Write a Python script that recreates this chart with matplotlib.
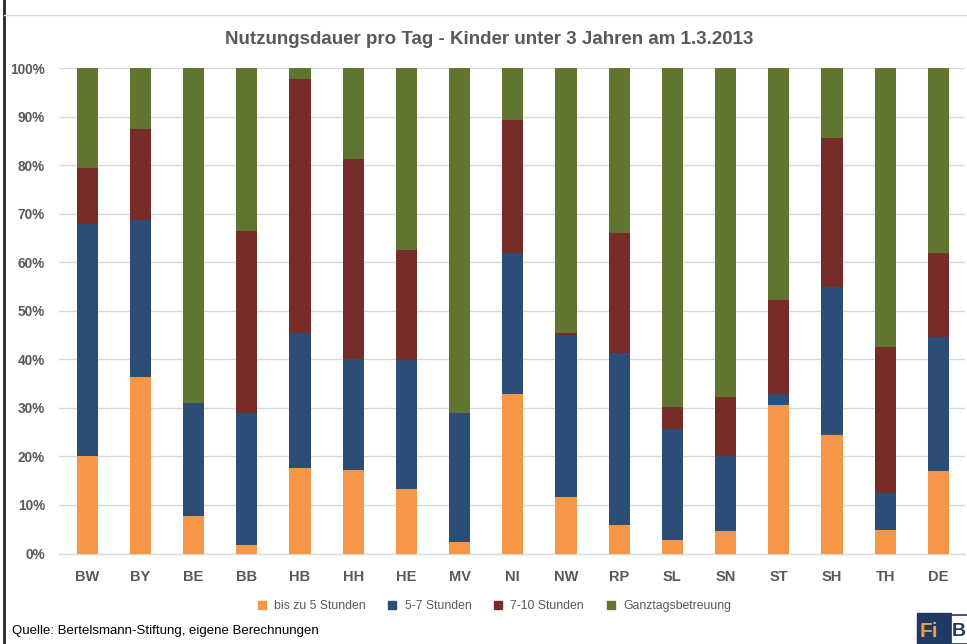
import numpy as np
import matplotlib.pyplot as plt
from matplotlib.patches import Rectangle
from matplotlib.lines import Line2D

plt.rcParams['font.family'] = ['Liberation Sans', 'DejaVu Sans']

laender = ['BW', 'BY', 'BE', 'BB', 'HB', 'HH', 'HE', 'MV', 'NI',
           'NW', 'RP', 'SL', 'SN', 'ST', 'SH', 'TH', 'DE']

# Anteile in Prozent
bis5 = [20.1, 36.4, 7.7, 1.8, 17.6, 17.2, 13.3, 2.4, 32.9,
        11.6, 5.9, 2.8, 4.6, 30.6, 24.4, 4.8, 17.0]
std5_7 = [47.8, 32.3, 23.3, 27.1, 27.8, 22.8, 26.6, 26.5, 28.9,
          33.4, 35.4, 22.8, 15.5, 2.3, 30.5, 7.7, 27.6]
std7_10 = [11.5, 18.7, 0.0, 37.5, 52.3, 41.3, 22.6, 0.0, 27.5,
           0.4, 24.7, 4.6, 12.1, 19.3, 30.7, 30.0, 17.2]
ganztag = [20.6, 12.6, 69.0, 33.6, 2.3, 18.7, 37.5, 71.1, 10.7,
           54.6, 34.0, 69.8, 67.8, 47.8, 14.4, 57.5, 38.2]

serien = ['bis zu 5 Stunden', '5-7 Stunden', '7-10 Stunden', 'Ganztagsbetreuung']
colors = ['#F79646', '#2C4D75', '#772C2A', '#5F7530']
grey = '#595959'

fig = plt.figure(figsize=(9.67, 6.44), dpi=100)
ax = fig.add_axes([0.061, 0.1405, 0.937, 0.7539])

x = np.arange(len(laender))
bottom = np.zeros(len(laender))
for vals, name, c in zip([bis5, std5_7, std7_10, ganztag], serien, colors):
    v = np.array(vals) / 100
    ax.bar(x, v, 0.4, bottom=bottom, color=c, label=name, zorder=3)
    bottom += v

ax.set_xlim(-0.53, 16.5)
ax.set_ylim(0, 1)
ax.set_yticks(np.arange(0, 1.01, 0.1))
ax.set_yticklabels(['%d%%' % (i * 10) for i in range(11)])
ax.set_xticks(x)
ax.set_xticklabels(laender)
ax.yaxis.grid(True, color='#D9D9D9', linewidth=1, zorder=0)
for s in ['top', 'right', 'left']:
    ax.spines[s].set_visible(False)
ax.spines['bottom'].set_color('#D9D9D9')
ax.spines['bottom'].set_linewidth(1)
ax.tick_params(axis='x', length=0, colors=grey, labelsize=10.5, pad=12)
ax.tick_params(axis='y', length=0, colors=grey, labelsize=9.8, pad=10)
for lab in ax.get_xticklabels() + ax.get_yticklabels():
    lab.set_fontweight('bold')

fig.text(0.506, 0.938, 'Nutzungsdauer pro Tag - Kinder unter 3 Jahren am 1.3.2013',
         ha='center', va='center', fontsize=13.5, fontweight='bold', color=grey)

handles = [Line2D([], [], marker='s', linestyle='none', markersize=5.5,
                  markerfacecolor=c, markeredgecolor=c) for c in colors]
fig.legend(handles, serien, loc='center', bbox_to_anchor=(0.507, 0.059), ncol=4,
           frameon=False, fontsize=8.8, handletextpad=0.0, columnspacing=1.2,
           labelcolor=grey)

fig.text(0.012, 0.02, 'Quelle: Bertelsmann-Stiftung, eigene Berechnungen',
         ha='left', va='center', fontsize=9.5, color='black')

# Rahmen
fig.add_artist(Line2D([0.004, 0.004], [0, 1], color='#262626', linewidth=2))
fig.add_artist(Line2D([0.004, 1], [0.976, 0.976], color='#D9D9D9', linewidth=1))

# Logo (angeschnitten)
fig.add_artist(Rectangle((0.948, 0.0), 0.035, 0.048, color='#1F3864'))
fig.text(0.951, 0.02, 'Fi', fontsize=15, fontweight='bold', color='#F0A030', va='center')
fig.add_artist(Rectangle((0.983, 0.0), 0.02, 0.045, facecolor='white',
                         edgecolor='#1F3864', linewidth=1.2))
fig.text(0.984, 0.02, 'B', fontsize=14, fontweight='bold', color='#1F3864', va='center')

fig.savefig('out.png', dpi=100)
